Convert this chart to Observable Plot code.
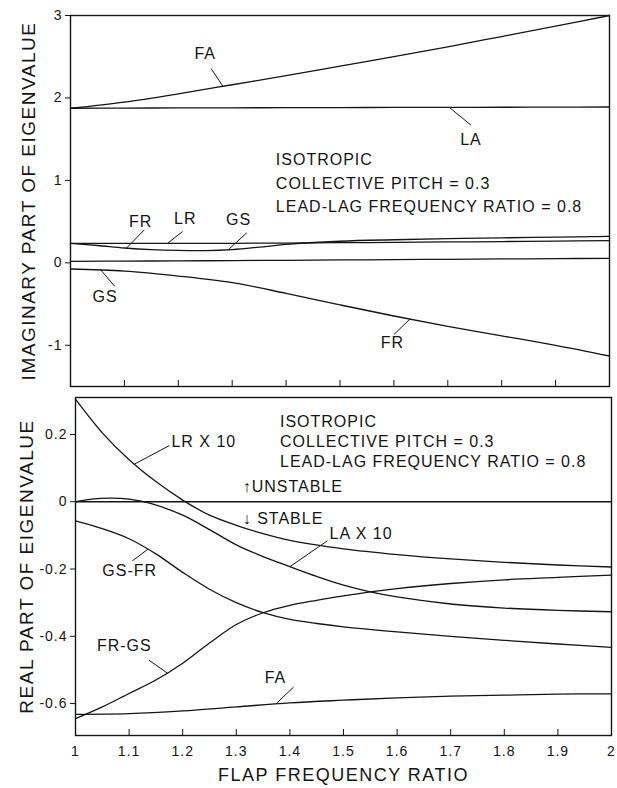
<!DOCTYPE html>
<html><head><meta charset="utf-8">
<script src="https://cdn.jsdelivr.net/npm/d3@7"></script>
<script src="https://cdn.jsdelivr.net/npm/@observablehq/plot@0.6"></script>
<style>
body{margin:0;background:#fff;}
#chart{position:relative;width:617px;height:788px;background:#fff;}
#chart svg{position:absolute;left:0;}
</style></head><body><div id="chart"></div>
<script>
// ---------- shared ----------
const xTicks = [1,1.1,1.2,1.3,1.4,1.5,1.6,1.7,1.8,1.9,2];
const xTickLabels = ["1","1.1","1.2","1.3","1.4","1.5","1.6","1.7","1.8","1.9","2"];
const xTitle = "FLAP FREQUENCY RATIO";
const infoLines = ["ISOTROPIC","COLLECTIVE PITCH = 0.3","LEAD-LAG FREQUENCY RATIO = 0.8"];

// ---------- top panel: imaginary part ----------
const imagTitle = "IMAGINARY PART OF EIGENVALUE";
const imagTicks = [3,2,1,0,-1];
const gridX = [1,1.1,1.2,1.3,1.4,1.5,1.6,1.7,1.8,1.9,2];
const imagFA = [1.875,1.95,2.05,2.16,2.27,2.385,2.5,2.62,2.745,2.87,3.0];
const imagLA = [1.875,1.877,1.879,1.88,1.882,1.883,1.885,1.886,1.887,1.888,1.89];
const imagLR = [0.235,0.235,0.235,0.237,0.24,0.244,0.248,0.253,0.258,0.264,0.27];
const imagGSx = [1,1.05,1.1,1.15,1.2,1.25,1.3,1.35,1.4,1.5,1.6,1.7,1.8,1.9,2];
const imagGS = [0.235,0.21,0.18,0.16,0.15,0.148,0.16,0.19,0.225,0.262,0.28,0.293,0.303,0.312,0.32];
const imagNear0 = [0.018,0.021,0.024,0.027,0.031,0.035,0.039,0.043,0.047,0.051,0.055];
const imagFR = [-0.075,-0.10,-0.16,-0.24,-0.37,-0.51,-0.645,-0.77,-0.885,-1.0,-1.13];
const imagLabelText = ["FA","LA","FR","LR","GS","GS","FR"];
const imagLabelX = [1.25,1.743,1.13,1.213,1.312,1.064,1.597];
const imagLabelY = [2.54,1.49,0.50,0.53,0.52,-0.41,-0.97];
const imagLeadX1 = [1.261,1.703,1.137,1.208,1.327,1.082,1.60];
const imagLeadY1 = [2.355,1.885,0.40,0.38,0.364,-0.285,-0.87];
const imagLeadX2 = [1.283,1.743,1.104,1.18,1.293,1.056,1.63];
const imagLeadY2 = [2.14,1.67,0.18,0.237,0.16,-0.085,-0.68];
const imagInfoX = 1.381;
const imagInfoY = [1.247,0.963,0.675];

// ---------- bottom panel: real part ----------
const realTitle = "REAL PART OF EIGENVALUE";
const realTicks = [0.2,0,-0.2,-0.4,-0.6];
const realLRx = [1,1.05,1.1,1.15,1.2,1.25,1.3,1.35,1.4,1.5,1.6,1.7,1.8,1.9,2];
const realLR = [0.305,0.205,0.125,0.06,0.005,-0.04,-0.07,-0.095,-0.115,-0.14,-0.157,-0.17,-0.18,-0.188,-0.194];
const realLAx = [1,1.03,1.065,1.1,1.14,1.2,1.25,1.3,1.35,1.4,1.45,1.5,1.55,1.6,1.7,1.8,1.9,2];
const realLA = [0.0,0.008,0.011,0.008,-0.005,-0.04,-0.083,-0.128,-0.163,-0.193,-0.222,-0.248,-0.268,-0.283,-0.304,-0.316,-0.323,-0.327];
const realGSFRx = [1,1.05,1.1,1.15,1.2,1.25,1.3,1.35,1.4,1.45,1.5,1.6,1.7,1.8,1.9,2];
const realGSFR = [-0.057,-0.08,-0.11,-0.155,-0.21,-0.26,-0.30,-0.33,-0.35,-0.362,-0.372,-0.387,-0.40,-0.412,-0.423,-0.433];
const realFRGSx = [1,1.05,1.1,1.15,1.2,1.25,1.3,1.35,1.4,1.45,1.5,1.55,1.6,1.7,1.8,1.9,2];
const realFRGS = [-0.645,-0.61,-0.57,-0.53,-0.48,-0.42,-0.365,-0.33,-0.308,-0.293,-0.28,-0.268,-0.258,-0.243,-0.232,-0.225,-0.218];
const realFA = [-0.632,-0.63,-0.622,-0.61,-0.598,-0.59,-0.583,-0.578,-0.575,-0.572,-0.571];
const realLabelText = ["LR X 10","LA X 10","GS-FR","FR-GS","FA","\u2191UNSTABLE","\u2193 STABLE"];
const realLabelX = [1.179,1.474,1.05,1.04,1.353,1.312,1.312];
const realLabelY = [0.177,-0.095,-0.206,-0.429,-0.523,0.043,-0.052];
const realLeadX1 = [1.175,1.47,1.106,1.137,1.407];
const realLeadY1 = [0.167,-0.116,-0.176,-0.471,-0.551];
const realLeadX2 = [1.11,1.40,1.135,1.171,1.374];
const realLeadY2 = [0.112,-0.193,-0.141,-0.509,-0.601];
const realInfoX = 1.3815;
const realInfoY = [0.237,0.177,0.12];

// ---------- build tables ----------
const series = (name, xs, ys) => xs.map((x, i) => ({s: name, x, y: ys[i]}));
const imagData = [
  ...series("FA", gridX, imagFA), ...series("LA", gridX, imagLA),
  ...series("LR", gridX, imagLR), ...series("GS", imagGSx, imagGS),
  ...series("N0", gridX, imagNear0), ...series("FR", gridX, imagFR)
];
const realData = [
  ...series("LR", realLRx, realLR), ...series("LA", realLAx, realLA),
  ...series("GSFR", realGSFRx, realGSFR), ...series("FRGS", realFRGSx, realFRGS),
  ...series("FA", gridX, realFA)
];
const labels = (t, xs, ys) => t.map((d, i) => ({t: d, x: xs[i], y: ys[i]}));
const leaders = (x1, y1, x2, y2) => x1.map((d, i) => ({x1: d, y1: y1[i], x2: x2[i], y2: y2[i]}));
const info = (x, ys) => infoLines.map((t, i) => ({t, x, y: ys[i]}));

const FONT = "'Liberation Sans', Arial, sans-serif";
const INK = "#151515";
const LW = 1.3;

function panel({height, ml, mr, mt, mb, ydomain, yticks, data, lab, lead, inf, labAnchor, title, titleDx, bottomLabels}) {
  const fmtX = d => xTickLabels[xTicks.indexOf(d)] ?? String(d);
  return Plot.plot({
    width: 617, height, marginLeft: ml, marginRight: mr, marginTop: mt, marginBottom: mb,
    x: {domain: [1, 2]}, y: {domain: ydomain},
    style: {fontFamily: FONT, color: INK, background: "transparent", overflow: "visible"},
    marks: [
      Plot.ruleY(bottomLabels ? [0] : [], {stroke: INK, strokeWidth: LW}),
      Plot.line(data, {x: "x", y: "y", z: "s", curve: "catmull-rom", stroke: INK, strokeWidth: LW}),
      Plot.frame({stroke: INK, strokeWidth: 1.4}),
      Plot.axisY({ticks: yticks, tickSize: 5, tickPadding: 3, tickFormat: d => String(d), label: null, fontSize: 14}),
      Plot.axisX({ticks: xTicks, tickSize: -6, tickFormat: () => "", label: null}),
      bottomLabels ? Plot.axisX({ticks: xTicks, tickSize: 0, tickPadding: 11, tickFormat: fmtX, label: null, fontSize: 14}) : null,
      Plot.link(lead, {x1: "x1", y1: "y1", x2: "x2", y2: "y2", stroke: INK, strokeWidth: 1}),
      Plot.text(lab, {x: "x", y: "y", text: "t", textAnchor: labAnchor, fontSize: 16, fill: INK}),
      Plot.text(inf, {x: "x", y: "y", text: "t", textAnchor: "start", fontSize: 16, fill: INK}),
      Plot.text([title], {frameAnchor: "left", textAnchor: "middle", rotate: -90, dx: titleDx, fontSize: 19, fill: INK}),
      bottomLabels ? Plot.text([xTitle], {frameAnchor: "bottom", textAnchor: "middle", dy: 45, fontSize: 18, fill: INK}) : null
    ]
  });
}

const topPanel = panel({height: 392, ml: 70, mr: 8, mt: 15, mb: 6, ydomain: [-1.5, 3], yticks: imagTicks,
  data: imagData, lab: labels(imagLabelText, imagLabelX, imagLabelY),
  lead: leaders(imagLeadX1, imagLeadY1, imagLeadX2, imagLeadY2), inf: info(imagInfoX, imagInfoY),
  labAnchor: "middle", title: imagTitle, titleDx: -42, bottomLabels: false});
const botPanel = panel({height: 396, ml: 75, mr: 6, mt: 5, mb: 53, ydomain: [-0.695, 0.31], yticks: realTicks,
  data: realData, lab: labels(realLabelText, realLabelX, realLabelY),
  lead: leaders(realLeadX1, realLeadY1, realLeadX2, realLeadY2), inf: info(realInfoX, realInfoY),
  labAnchor: "start", title: realTitle, titleDx: -49, bottomLabels: true});

topPanel.style.top = "0px";
botPanel.style.top = "392px";
const chart = document.getElementById("chart");
chart.appendChild(topPanel);
chart.appendChild(botPanel);
for (const svg of [topPanel, botPanel]) {
  d3.select(svg).selectAll("text").each(function() {
    const t = this.textContent;
    const big = t === imagTitle || t === realTitle || t === xTitle;
    d3.select(this).style("letter-spacing", big ? "1.5px" : "1px");
  });
}
</script></body></html>
